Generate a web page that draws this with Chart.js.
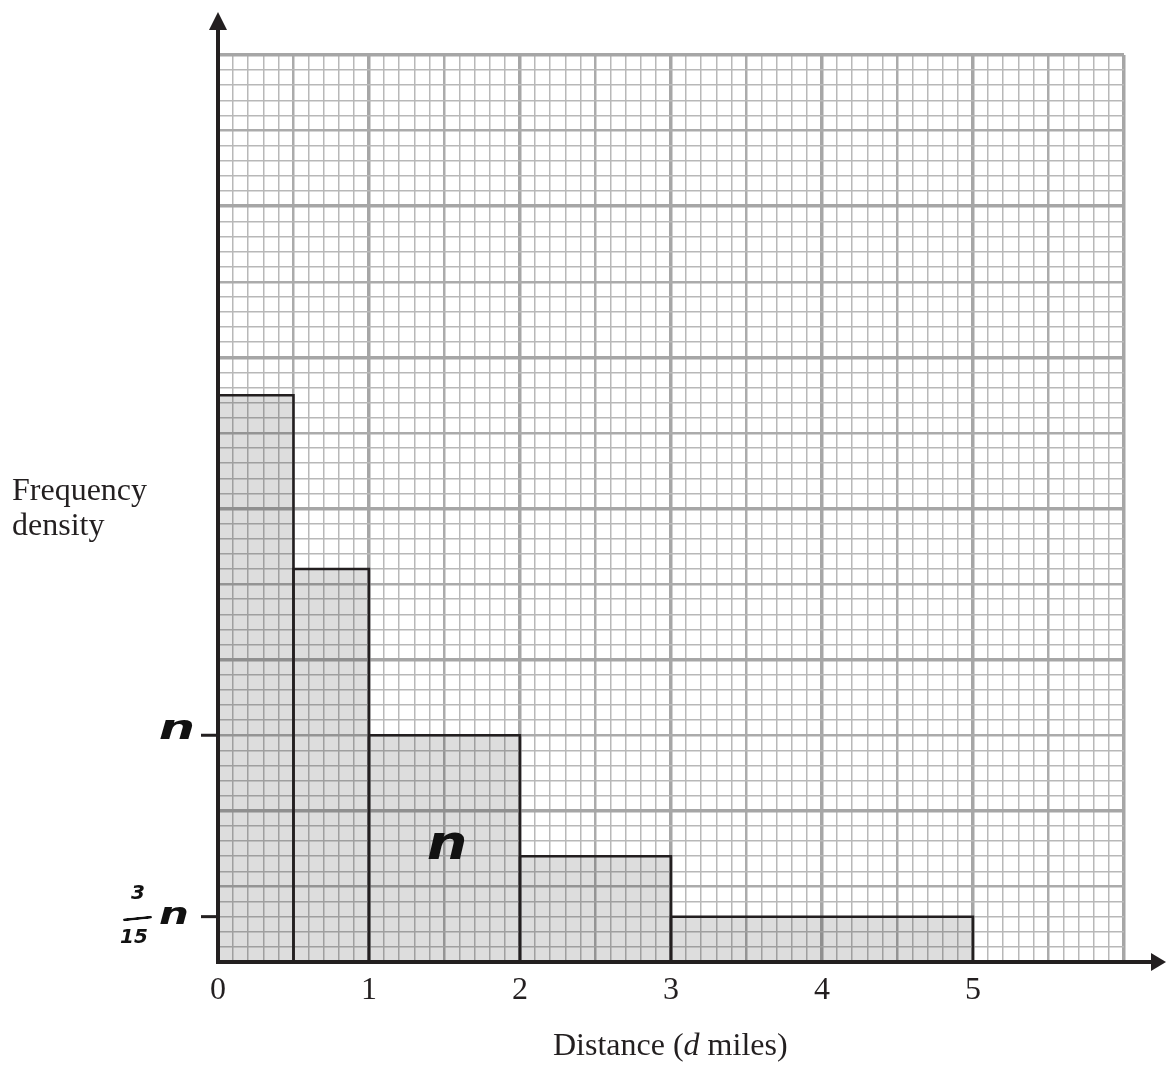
<!DOCTYPE html>
<html>
<head>
<meta charset="utf-8">
<title>Histogram - distance</title>
<script src="https://cdn.jsdelivr.net/npm/chart.js@4.4.1/dist/chart.umd.min.js"></script>
<style>
    body { margin: 0; background: #fff; }
    #wrap { position: relative; width: 1166px; height: 1068px; }
    .lbl {
        position: absolute;
        font-family: 'Liberation Serif', 'Times New Roman', serif;
        font-size: 32px;
        line-height: 35px;
        color: #231f20;
        white-space: nowrap;
    }
    .hand {
        position: absolute;
        font-family: 'DejaVu Sans', sans-serif;
        font-style: italic;
        font-weight: 600;
        color: #111;
        line-height: 1;
        white-space: nowrap;
    }
    .bar { position: absolute; border-top: 3px solid #111; border-radius: 2px; }
</style>
</head>
<body>
<div id="wrap">
    <canvas id="histogramChart"></canvas>

    <div class="lbl" style="left:12px; top:472px;">Frequency<br>density</div>
    <div class="lbl" style="left:553px; top:1027px;">Distance (<i>d</i> miles)</div>

    <!-- handwritten working -->
    <div class="hand" style="left:177px; top:727px; font-size:34px; transform:translate(-50%,-50%) scale(1.5,1);">n</div>
    <div class="hand" style="left:174px; top:914px; font-size:30px; transform:translate(-50%,-50%) scale(1.4,1);">n</div>
    <div class="hand" style="left:447px; top:843px; font-size:44px; transform:translate(-50%,-50%) scale(1.3,1.1);">n</div>
    <div class="hand" style="left:138px; top:892px; font-size:20px; transform:translate(-50%,-50%);">3</div>
    <div class="bar" style="left:123px; top:917px; width:29px; transform:rotate(-6deg);"></div>
    <div class="hand" style="left:134px; top:936px; font-size:20px; transform:translate(-50%,-50%);">15</div>
</div>

<script>
// Histogram data
const binEdges = [0, 0.5, 1, 2, 3, 5];        // miles
const densities = [37.5, 26, 15, 7, 3];       // frequency density (small squares)
const xTickLabels = ['0', '1', '2', '3', '4', '5'];
const markedValues = [15, 3];                 // values marked on the y axis

// grid style helpers: every 10th line major, every 5th medium
function gridWidth(k) {
    if (k % 10 === 0) return 3.5;
    if (k % 5 === 0) return 2.5;
    return 1.5;
}
function gridColor(k) {
    if (k % 10 === 0) return '#a6a6a6';
    if (k % 5 === 0) return '#ababab';
    return '#b8b8b8';
}

// Axes with arrow heads, plus the small dashes at the marked values
const axesArrows = {
    id: 'axesArrows',
    afterDraw(chart) {
        const { ctx, scales: { x, y } } = chart;
        const x0 = x.getPixelForValue(0);
        const y0 = y.getPixelForValue(0);
        ctx.save();
        ctx.strokeStyle = '#231f20';
        ctx.fillStyle = '#231f20';
        ctx.lineWidth = 4;
        ctx.beginPath();
        ctx.moveTo(x0, y0 + 2);
        ctx.lineTo(x0, 28);
        ctx.moveTo(x0 - 2, y0);
        ctx.lineTo(chart.width - 14, y0);
        ctx.stroke();

        ctx.beginPath();
        ctx.moveTo(x0, 12);
        ctx.lineTo(x0 - 9, 30);
        ctx.lineTo(x0 + 9, 30);
        ctx.closePath();
        ctx.fill();

        ctx.beginPath();
        ctx.moveTo(chart.width, y0);
        ctx.lineTo(chart.width - 15, y0 - 9);
        ctx.lineTo(chart.width - 15, y0 + 9);
        ctx.closePath();
        ctx.fill();

        ctx.lineWidth = 3;
        markedValues.forEach(v => {
            const py = y.getPixelForValue(v);
            ctx.beginPath();
            ctx.moveTo(x0 - 17, py);
            ctx.lineTo(x0, py);
            ctx.stroke();
        });
        ctx.restore();
    }
};

document.addEventListener('DOMContentLoaded', () => {
    const datasets = densities.map((h, i) => ({
        data: [
            { x: binEdges[i], y: 0 },
            { x: binEdges[i], y: h },
            { x: binEdges[i + 1], y: h },
            { x: binEdges[i + 1], y: 0 }
        ],
        borderColor: '#231f20',
        borderWidth: 2.5,
        backgroundColor: 'rgba(0,0,0,0.135)',
        fill: 'origin',
        pointRadius: 0,
        tension: 0,
        borderJoinStyle: 'miter'
    }));

    const ctx = document.getElementById('histogramChart').getContext('2d');
    window.histogramChart = new Chart(ctx, {
        type: 'line',
        data: { datasets },
        options: {
            responsive: true,
            maintainAspectRatio: false,
            animation: false,
            layout: {
                padding: { left: 198, top: 55, right: 42, bottom: 46 }
            },
            plugins: {
                legend: { display: false },
                tooltip: { enabled: false }
            },
            scales: {
                x: {
                    type: 'linear',
                    min: 0,
                    max: 6,
                    border: { display: false },
                    grid: {
                        drawTicks: false,
                        lineWidth: c => gridWidth(Math.round(c.tick.value * 10)),
                        color: c => gridColor(Math.round(c.tick.value * 10))
                    },
                    ticks: {
                        stepSize: 0.1,
                        autoSkip: false,
                        maxRotation: 0,
                        padding: 9,
                        color: '#231f20',
                        font: { family: 'Liberation Serif', size: 32 },
                        callback: value => {
                            const k = Math.round(value * 10);
                            return k % 10 === 0 && xTickLabels[k / 10] !== undefined ? xTickLabels[k / 10] : '';
                        }
                    },
                    afterFit: scale => { scale.height = 60; }
                },
                y: {
                    min: 0,
                    max: 60,
                    border: { display: false },
                    grid: {
                        drawTicks: false,
                        lineWidth: c => gridWidth(Math.round(c.tick.value)),
                        color: c => gridColor(Math.round(c.tick.value))
                    },
                    ticks: { display: false, stepSize: 1, autoSkip: false },
                    afterFit: scale => { scale.width = 20; }
                }
            }
        },
        plugins: [axesArrows]
    });
});
</script>
</body>
</html>
